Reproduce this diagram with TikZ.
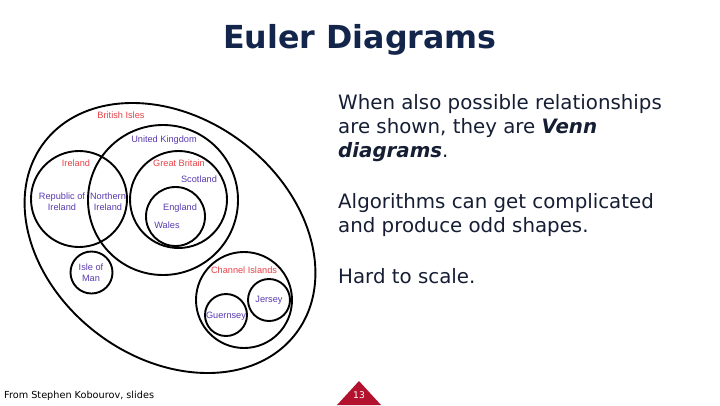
\documentclass[tikz,border=0pt]{standalone}
\usepackage{fontspec}
\setmainfont{DejaVu Sans}
\newfontfamily\labfont{Liberation Sans}
\usetikzlibrary{shapes.geometric}
\definecolor{navy}{RGB}{19,37,74}
\definecolor{bodytxt}{RGB}{22,30,52}
\definecolor{lred}{RGB}{232,64,70}
\definecolor{lpurple}{RGB}{88,58,176}
\definecolor{pgred}{RGB}{178,18,46}
\begin{document}
\begin{tikzpicture}[x=1pt,y=-1pt,
  set/.style={draw=black, line width=1.9pt, circle, inner sep=0pt},
  redlab/.style={text=lred, font=\labfont\fontsize{9.2}{10.7}\selectfont, align=center, inner sep=0pt},
  purlab/.style={text=lpurple, font=\labfont\fontsize{9.2}{10.7}\selectfont, align=center, inner sep=0pt},
  bodyline/.style={anchor=base west, inner sep=0pt, text=bodytxt, font=\fontsize{19.8}{24}\selectfont}]
\useasboundingbox (0,0) rectangle (720,405);
% title
\node[anchor=base, inner sep=0pt, text=navy, font=\bfseries\fontsize{31.7}{36}\selectfont] (title) at (360,48) {Euler Diagrams};
% sets
\node[draw=black, line width=1.9pt, ellipse, inner sep=0pt, minimum width=316pt, minimum height=240pt, rotate=-37] (bi) at (170,238) {};
\node[set, minimum size=96pt] (ire) at (79,199) {};
\node[set, minimum size=150pt] (uk) at (163,200) {};
\node[set, minimum size=97pt] (gb) at (178.5,199.5) {};
\node[set, minimum size=59pt] (eng) at (175.5,216.5) {};
\node[set, minimum size=42pt] (iom) at (91.5,272.5) {};
\node[set, minimum size=96pt] (ci) at (244,300) {};
\node[set, minimum size=42pt] (jer) at (269,300) {};
\node[set, minimum size=42pt] (gue) at (226,315) {};
% labels
\node[redlab] (lbi) at (121,115) {British Isles};
\node[purlab] (luk) at (164,140) {United Kingdom};
\node[redlab] (lire) at (76,163) {Ireland};
\node[redlab] (lgb) at (179,163) {Great Britain};
\node[purlab] (lsco) at (199,179) {Scotland};
\node[purlab] (lroi) at (62,202) {Republic of\\Ireland};
\node[purlab] (lni) at (108,202) {Northern\\Ireland};
\node[purlab] (leng) at (180,208) {England};
\node[purlab] (lwal) at (167,225) {Wales};
\node[purlab] (liom) at (91,273) {Isle of\\Man};
\node[redlab] (lci) at (244,270) {Channel Islands};
\node[purlab] (ljer) at (269,300) {Jersey};
\node[purlab] (lgue) at (226,316) {Guernsey};
% body text
\node[bodyline] (t1) at (338,109) {When also possible relationships};
\node[bodyline] (t2) at (338,133) {are shown, they are \textbf{\textit{Venn}}};
\node[bodyline] (t3) at (338,157) {\textbf{\textit{diagrams}}.};
\node[bodyline] (t4) at (338,208.5) {Algorithms can get complicated};
\node[bodyline] (t5) at (338,232.5) {and produce odd shapes.};
\node[bodyline] (t6) at (338,283.5) {Hard to scale.};
% footer
\node[anchor=base west, inner sep=0pt, text=black, font=\fontsize{9.7}{11}\selectfont] (foot) at (4,398.5) {From Stephen Kobourov, slides};
\fill[pgred] (359,381) -- (381,405) -- (337,405) -- cycle;
\node[anchor=base, inner sep=0pt, text=white, font=\fontsize{9.2}{11}\selectfont] (pg) at (359,398.3) {13};
\end{tikzpicture}
\end{document}
